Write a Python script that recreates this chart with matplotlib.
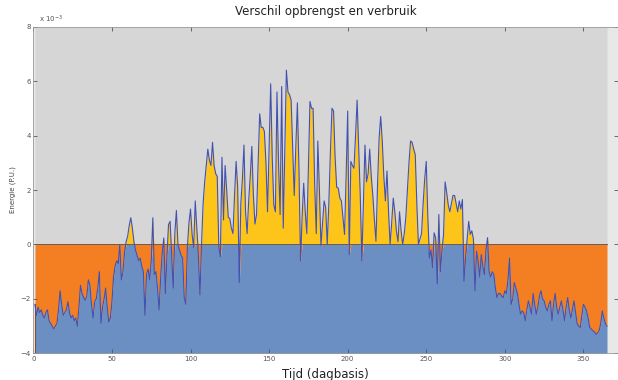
import numpy as np
import matplotlib
matplotlib.use('Agg')
import matplotlib.pyplot as plt

# daily difference between yield and consumption, in units of 1e-3 P.U.
verschil = [
    -2.2, -2.6, -2.3, -2.5, -2.4, -2.6, -2.7, -2.5, -2.4, -2.8,
    -2.9, -3.0, -3.1, -3.0, -2.9, -2.4, -1.7, -2.2, -2.6, -2.5,
    -2.4, -2.1, -2.5, -2.7, -2.6, -2.8, -2.7, -3.0, -2.3, -1.5,
    -1.8, -1.95, -2.05, -1.9, -1.3, -1.5, -2.2, -2.7, -2.1, -2.0,
    -1.6, -1.0, -2.9, -2.3, -2.0, -1.6, -2.3, -2.85, -2.7, -2.1,
    -1.2, -0.8, -0.6, -0.7, 0.0, -1.3, -1.0, -0.3, 0.1, 0.3,
    0.7, 0.98, 0.6, 0.1, -0.2, -0.4, -0.6, -0.5, -0.8, -1.0,
    -2.6, -1.1, -0.9, -1.3, -0.6, 0.98, -1.1, -1.0, -1.6, -2.4,
    -1.2, -0.3, 0.24, -1.8, -0.4, 0.73, 0.85, -0.4, -1.6, 0.4,
    1.25, 0.0, -0.2, -0.4, -0.5, -1.95, -2.2, -0.1, 0.8, 1.3,
    0.37, -0.12, 1.6, 0.6, -0.4, -1.85, 0.0, 1.5, 2.3, 2.9,
    3.5, 3.1, 2.9, 3.75, 2.9, 2.6, 2.5, -0.1, -0.45, 3.2,
    0.9, 2.9, 2.0, 1.0, 0.95, 0.6, 0.4, 1.8, 3.05, 2.1,
    -1.4, 1.5, 2.4, 3.65, 1.2, 0.4, 1.6, 2.5, 3.6, 1.8,
    0.75, 1.1, 2.9, 4.8, 4.3, 4.3, 4.15, 3.0, 1.2, 3.5,
    5.9, 3.2, 1.45, 1.2, 5.6, 3.0, 1.1, 5.8, 0.6, 3.5,
    6.4, 5.6, 5.5, 5.3, 3.5, 1.8, 3.6, 5.2, 2.8, -0.6,
    1.0, 2.25, 1.2, 0.4, 2.8, 5.25, 5.0, 5.0, 2.2, 0.4,
    3.8, 2.0, -0.05, 0.8, 1.6, 1.35, 0.0, 1.5, 3.4, 5.0,
    4.9, 3.2, 2.1, 2.07, 1.7, 1.6, 1.0, 0.37, 2.5, 4.9,
    -0.37, 3.05, 2.9, 2.8, 4.0, 5.3, 3.5, 1.8, -0.6, 1.5,
    3.65, 2.3, 2.6, 3.5, 2.5, 1.8, 0.9, 0.12, 2.2, 3.9,
    4.7, 3.8, 2.5, 1.6, 2.7, 1.2, 0.0, 0.8, 1.7, 1.2,
    0.5, 0.1, 1.2, 0.5, 0.0, 0.4, 1.0, 2.0, 3.0, 3.8,
    3.75, 3.5, 3.3, 1.5, 0.0, 0.2, 0.4, 1.5, 2.4, 3.05,
    1.0, -0.5, -0.2, -0.85, 0.43, 0.24, -1.45, 1.1, -1.0, -0.2,
    0.37, 2.3, 1.9, 1.45, 1.2, 1.5, 1.8, 1.8, 1.5, 1.2,
    1.6, 1.3, 1.65, -1.35, -0.5, 0.2, 0.85, 0.37, 0.5, 0.2,
    -1.7, -0.25, -0.6, -1.2, -0.37, -0.8, -1.1, -0.2, 0.25, -1.0,
    -1.2, -1.0, -1.1, -1.6, -1.95, -1.8, -1.8, -1.9, -1.95, -1.7,
    -1.8, -1.3, -0.5, -2.2, -2.0, -1.4, -1.6, -1.8, -2.2, -2.56,
    -2.44, -2.5, -2.8, -2.4, -2.07, -2.3, -2.56, -1.8, -2.2, -2.56,
    -2.3, -1.9, -1.7, -2.0, -2.07, -2.3, -2.44, -2.2, -2.07, -2.8,
    -2.2, -1.8, -2.3, -2.56, -2.3, -2.07, -2.4, -2.8, -2.3, -1.95,
    -2.4, -2.7, -2.4, -2.07, -2.5, -2.9, -3.0, -3.05, -2.6, -2.2,
    -2.3, -2.44, -2.7, -3.05, -3.1, -3.17, -3.2, -3.3, -3.25, -3.17,
    -2.9, -2.44, -2.7, -2.9, -3.0,
]
dagen = np.arange(1, len(verschil) + 1)
ymin, ymax = -4, 8

v = np.array(verschil)
neg = np.minimum(v, 0)
pos = np.maximum(v, 0)

fig = plt.figure(figsize=(6.18, 3.8), dpi=100)
ax = fig.add_axes([0.054, 0.07, 0.946, 0.86])
ax.set_facecolor('#e8e8e8')

# stacked areas: base, shortage, surplus, remainder
edge = dict(edgecolor='#6b5a50', linewidth=0.5)
ax.fill_between(dagen, ymin, neg, color='#6b8fc2', lw=0)
ax.fill_between(dagen, neg, 0, color='#f37f22', lw=0)
ax.fill_between(dagen, 0, pos, color='#fdc41a', lw=0)
ax.fill_between(dagen, pos, ymax, color='#d6d6d6', lw=0)
ax.plot([dagen[0], dagen[-1]], [0, 0], color='#6b5a50', lw=0.7)
ax.plot([dagen[0], dagen[0]], [ymin, v[0]], color='#8a4a2a', lw=0.8)
ax.plot(dagen, v, color='#4152b4', lw=0.8)

ax.set_xlim(0, 372)
ax.set_ylim(ymin, ymax)
ax.set_xticks(range(0, 351, 50))
ax.set_yticks(range(-4, 9, 2))
ax.tick_params(direction='in', top=True, right=True, length=3, width=0.6,
               labelsize=5, colors='#555555', pad=2)
for s in ax.spines.values():
    s.set_color('#999999')
    s.set_linewidth(0.6)

ax.text(0.01, 1.005, r'x 10$^{-3}$', transform=ax.transAxes, fontsize=5,
        color='#555555', va='bottom', ha='left')
ax.set_title('Verschil opbrengst en verbruik', fontsize=8.5, color='#222222', pad=8)
ax.set_xlabel('Tijd (dagbasis)', fontsize=8.5, color='#222222', labelpad=4)
ax.set_ylabel('Energie (P.U.)', fontsize=5, color='#444444', labelpad=3)

fig.savefig('out.png', dpi=100)
